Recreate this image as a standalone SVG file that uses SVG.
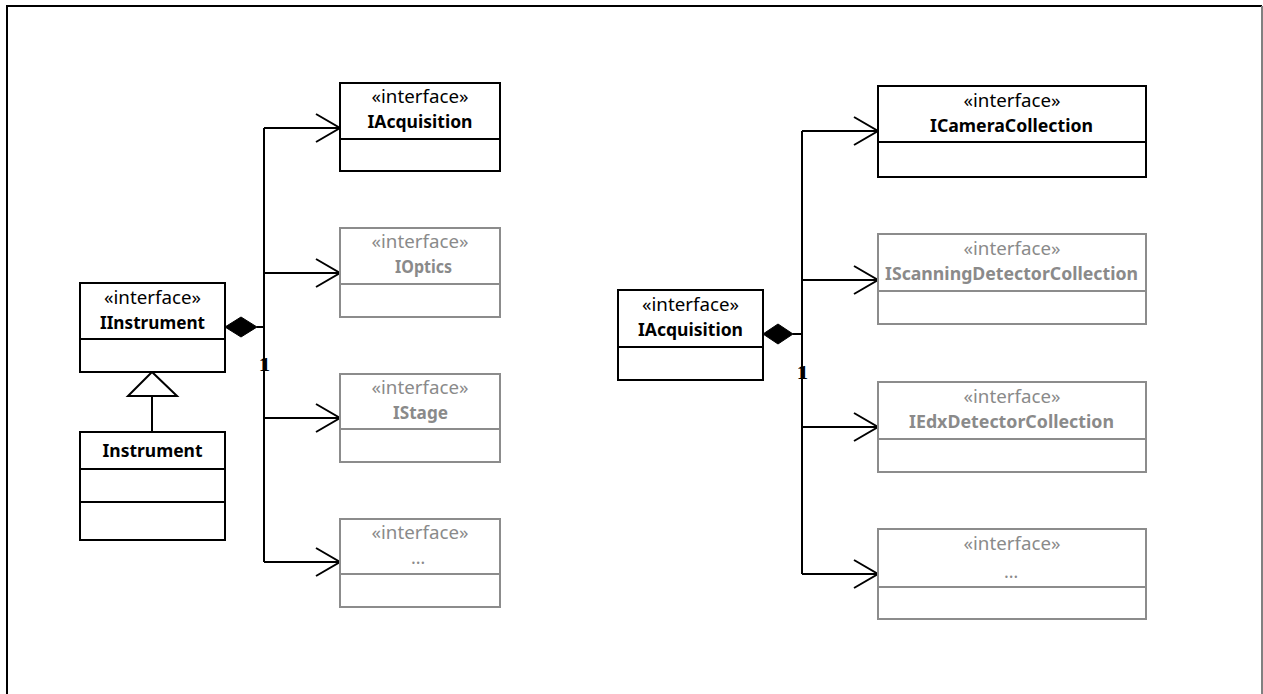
<svg xmlns="http://www.w3.org/2000/svg" width="1263" height="694" viewBox="0 0 1263 694">
<style>
.box{fill:#fff;stroke:#000;stroke-width:2}
.gbox{fill:#fff;stroke:#8c8c8c;stroke-width:2}
.div{stroke:#000;stroke-width:2}
.gdiv{stroke:#8c8c8c;stroke-width:2}
.st{font-family:"Noto Sans","Liberation Sans",sans-serif;font-size:18px;text-anchor:middle;fill:#000}
.nm{font-family:"Noto Sans","Liberation Sans",sans-serif;font-size:18px;font-weight:bold;text-anchor:middle;fill:#000}
.g{fill:#8a8a8a}
.ln{fill:none;stroke:#000;stroke-width:2}
.mult{font-family:"Liberation Serif",serif;font-size:18px;font-weight:bold;fill:#000;letter-spacing:-6px}
</style>
<rect x="0" y="0" width="1263" height="694" fill="#fff"/>
<path d="M7 700 V6 H1262" fill="none" stroke="#000" stroke-width="2"/>
<path d="M1262 6 V700" fill="none" stroke="#808080" stroke-width="2"/>

<g id="connectors">
  <path class="ln" d="M257 327 H264 M264 128 V562 M264 128 H340 M264 273 H340 M264 418 H340 M264 562 H340"/>
  <path class="ln" d="M316 114 L340 128 L316 142 M316 259 L340 273 L316 287 M316 404 L340 418 L316 432 M316 548 L340 562 L316 576"/>
  <polygon points="225,327 241,317 257,327 241,337" fill="#000" stroke="#000" stroke-width="1"/>
  <text class="mult" x="259" y="371">11</text>
  <polygon points="152,372 128,396 177,396" fill="#fff" stroke="#000" stroke-width="2"/>
  <path class="ln" d="M152 396 V432"/>
  <path class="ln" d="M793 334 H802 M802 131 V574 M802 131 H878 M802 280 H878 M802 427 H878 M802 574 H878"/>
  <path class="ln" d="M854 117 L878 131 L854 145 M854 266 L878 280 L854 294 M854 413 L878 427 L854 441 M854 560 L878 574 L854 588"/>
  <polygon points="763,334 778,324 793,334 778,344" fill="#000" stroke="#000" stroke-width="1"/>
  <text class="mult" x="797" y="379">11</text>
</g>

<g id="IInstrument">
  <rect class="box" x="80" y="283" width="145" height="89"/>
  <line class="div" x1="80" y1="339" x2="225" y2="339"/>
  <text class="st" x="152.5" y="304" textLength="97" lengthAdjust="spacingAndGlyphs">«interface»</text>
  <text class="nm" x="152.5" y="329" textLength="105" lengthAdjust="spacingAndGlyphs">IInstrument</text>
</g>
<g id="Instrument">
  <rect class="box" x="80" y="432" width="145" height="108"/>
  <line class="div" x1="80" y1="469" x2="225" y2="469"/>
  <line class="div" x1="80" y1="502" x2="225" y2="502"/>
  <text class="nm" x="152.5" y="457" textLength="100" lengthAdjust="spacingAndGlyphs">Instrument</text>
</g>
<g id="IAcquisitionL">
  <rect class="box" x="340" y="83" width="160" height="88"/>
  <line class="div" x1="340" y1="139" x2="500" y2="139"/>
  <text class="st" x="420" y="103" textLength="97" lengthAdjust="spacingAndGlyphs">«interface»</text>
  <text class="nm" x="420" y="128" textLength="105" lengthAdjust="spacingAndGlyphs">IAcquisition</text>
</g>
<g id="IOptics">
  <rect class="gbox" x="340" y="228" width="160" height="89"/>
  <line class="gdiv" x1="340" y1="284" x2="500" y2="284"/>
  <text class="st g" x="420" y="248" textLength="97" lengthAdjust="spacingAndGlyphs">«interface»</text>
  <text class="nm g" x="423.5" y="273" textLength="57" lengthAdjust="spacingAndGlyphs">IOptics</text>
</g>
<g id="IStage">
  <rect class="gbox" x="340" y="374" width="160" height="88"/>
  <line class="gdiv" x1="340" y1="429" x2="500" y2="429"/>
  <text class="st g" x="420" y="394" textLength="97" lengthAdjust="spacingAndGlyphs">«interface»</text>
  <text class="nm g" x="420.5" y="419" textLength="55" lengthAdjust="spacingAndGlyphs">IStage</text>
</g>
<g id="EtcL">
  <rect class="gbox" x="340" y="519" width="160" height="88"/>
  <line class="gdiv" x1="340" y1="574" x2="500" y2="574"/>
  <text class="st g" x="420" y="539" textLength="97" lengthAdjust="spacingAndGlyphs">«interface»</text>
  <text class="st g" x="418" y="564">…</text>
</g>

<g id="IAcquisitionM">
  <rect class="box" x="618" y="290" width="145" height="90"/>
  <line class="div" x1="618" y1="347" x2="763" y2="347"/>
  <text class="st" x="690.5" y="311" textLength="97" lengthAdjust="spacingAndGlyphs">«interface»</text>
  <text class="nm" x="690.5" y="336" textLength="105" lengthAdjust="spacingAndGlyphs">IAcquisition</text>
</g>
<g id="ICameraCollection">
  <rect class="box" x="878" y="86" width="268" height="91"/>
  <line class="div" x1="878" y1="142" x2="1146" y2="142"/>
  <text class="st" x="1012" y="107" textLength="97" lengthAdjust="spacingAndGlyphs">«interface»</text>
  <text class="nm" x="1011.5" y="132" textLength="163" lengthAdjust="spacingAndGlyphs">ICameraCollection</text>
</g>
<g id="IScanningDetectorCollection">
  <rect class="gbox" x="878" y="234" width="268" height="90"/>
  <line class="gdiv" x1="878" y1="291" x2="1146" y2="291"/>
  <text class="st g" x="1012" y="255" textLength="97" lengthAdjust="spacingAndGlyphs">«interface»</text>
  <text class="nm g" x="1011.5" y="280" textLength="253" lengthAdjust="spacingAndGlyphs">IScanningDetectorCollection</text>
</g>
<g id="IEdxDetectorCollection">
  <rect class="gbox" x="878" y="382" width="268" height="90"/>
  <line class="gdiv" x1="878" y1="439" x2="1146" y2="439"/>
  <text class="st g" x="1012" y="403" textLength="97" lengthAdjust="spacingAndGlyphs">«interface»</text>
  <text class="nm g" x="1011.5" y="428" textLength="205" lengthAdjust="spacingAndGlyphs">IEdxDetectorCollection</text>
</g>
<g id="EtcR">
  <rect class="gbox" x="878" y="529" width="268" height="90"/>
  <line class="gdiv" x1="878" y1="587" x2="1146" y2="587"/>
  <text class="st g" x="1012" y="550" textLength="97" lengthAdjust="spacingAndGlyphs">«interface»</text>
  <text class="st g" x="1011" y="578">…</text>
</g>
</svg>
